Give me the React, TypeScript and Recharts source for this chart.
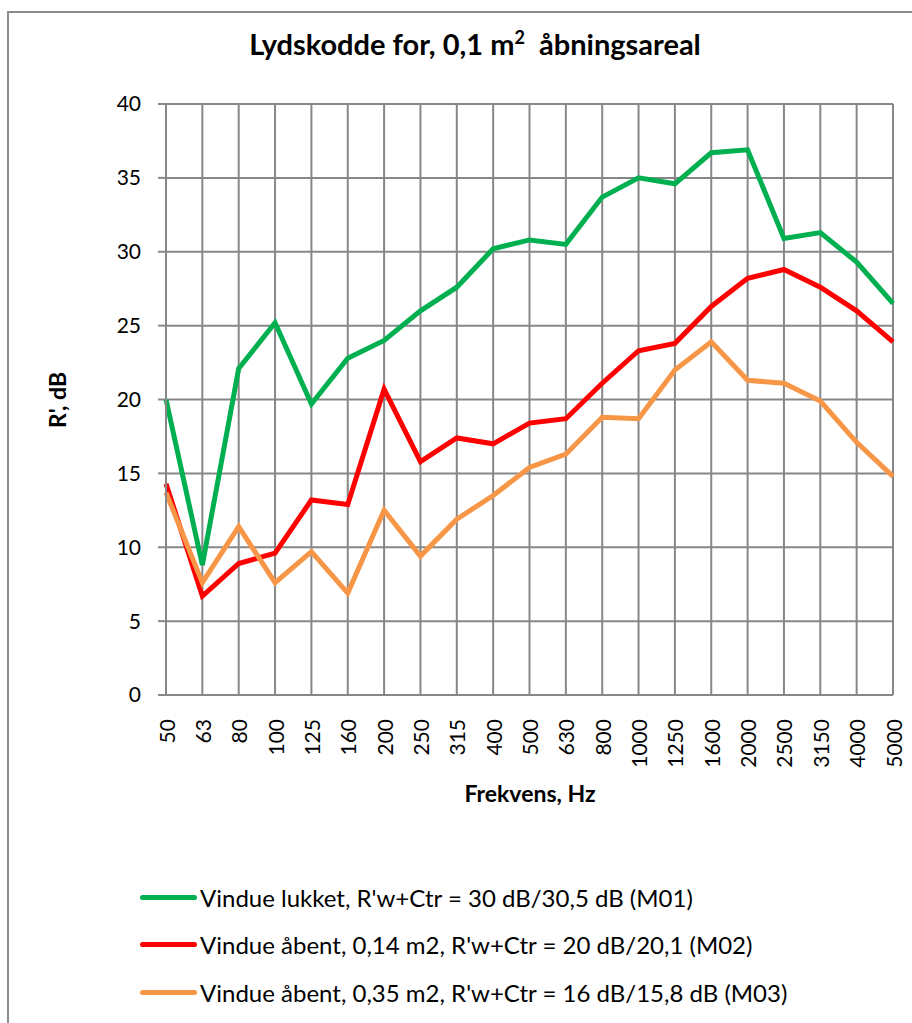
import { LineChart, Line, XAxis, YAxis, CartesianGrid } from 'recharts';

const frequencies = ['50', '63', '80', '100', '125', '160', '200', '250', '315', '400', '500', '630', '800', '1000', '1250', '1600', '2000', '2500', '3150', '4000', '5000'];

const closedM01 = [20.0, 8.8, 22.1, 25.2, 19.7, 22.8, 24.0, 26.0, 27.6, 30.2, 30.8, 30.5, 33.7, 35.0, 34.6, 36.7, 36.9, 30.9, 31.3, 29.3, 26.5];
const open014M02 = [14.3, 6.7, 8.9, 9.6, 13.2, 12.9, 20.7, 15.8, 17.4, 17.0, 18.4, 18.7, 21.1, 23.3, 23.8, 26.3, 28.2, 28.8, 27.6, 26.0, 23.9];
const open035M03 = [13.7, 7.6, 11.4, 7.6, 9.7, 6.9, 12.5, 9.4, 11.9, 13.5, 15.4, 16.3, 18.8, 18.7, 22.0, 23.9, 21.3, 21.1, 19.9, 17.1, 14.8];

const yTicks = [0, 5, 10, 15, 20, 25, 30, 35, 40];

const series = [
  { key: 'm01', name: "Vindue lukket, R'w+Ctr = 30 dB/30,5 dB (M01)", color: '#00B050' },
  { key: 'm02', name: "Vindue åbent, 0,14 m2, R'w+Ctr = 20 dB/20,1 (M02)", color: '#FF0000' },
  { key: 'm03', name: "Vindue åbent, 0,35 m2, R'w+Ctr = 16 dB/15,8 dB (M03)", color: '#F79646' },
];

const FONT = 'Lato, "Open Sans", sans-serif';
const GRID = '#878787';

const data = frequencies.map((f, i) => ({
  freq: f,
  m01: closedM01[i],
  m02: open014M02[i],
  m03: open035M03[i],
}));

const RotatedTick = (props: any) => {
  const { x, y, payload } = props;
  return (
    <text
      x={x}
      y={y + 16}
      transform={`rotate(-90, ${x}, ${y + 16})`}
      textAnchor="end"
      dominantBaseline="central"
      fontSize={21}
      fontFamily={FONT}
      fill="#000"
    >
      {payload.value}
    </text>
  );
};

export default function App() {
  return (
    <div style={{ position: 'absolute', left: 0, top: 0, width: 912, height: 1023, overflow: 'hidden', background: '#fff', fontFamily: FONT }}>
      <div style={{ position: 'absolute', left: 7, top: 11, width: 960, height: 1100, border: '2px solid #8c8c8c', boxSizing: 'border-box' }} />

      <div style={{ position: 'absolute', left: 0, width: 950, top: 26, lineHeight: '36px', textAlign: 'center', fontWeight: 700, fontSize: 29, color: '#000' }}>
        Lydskodde for, 0,1 m<sup style={{ fontSize: 18, lineHeight: 0 }}>2</sup>&nbsp; åbningsareal
      </div>

      <LineChart
        width={912}
        height={1023}
        data={data}
        margin={{ top: 104, right: 19, bottom: 268, left: 106 }}
        style={{ position: 'absolute', left: 0, top: 0 }}
      >
        <CartesianGrid stroke={GRID} strokeWidth={2} vertical horizontal />
        <XAxis
          dataKey="freq"
          interval={0}
          height={60}
          tick={<RotatedTick />}
          tickLine={false}
          axisLine={{ stroke: GRID, strokeWidth: 2 }}
        />
        <YAxis
          domain={[0, 40]}
          ticks={yTicks}
          width={60}
          tickSize={8}
          tickMargin={17}
          tickLine={{ stroke: GRID, strokeWidth: 2 }}
          axisLine={{ stroke: GRID, strokeWidth: 2 }}
          tick={{ fontSize: 21, fontFamily: FONT, fill: '#000' }}
        />
        {series.map((s) => (
          <Line
            key={s.key}
            dataKey={s.key}
            name={s.name}
            stroke={s.color}
            strokeWidth={5}
            dot={false}
            type="linear"
            isAnimationActive={false}
          />
        ))}
      </LineChart>

      <div style={{ position: 'absolute', left: 380, width: 300, top: 778, lineHeight: '30px', textAlign: 'center', fontWeight: 700, fontSize: 23, color: '#000' }}>
        Frekvens, Hz
      </div>

      <div
        style={{
          position: 'absolute',
          left: 57,
          top: 400,
          transform: 'translate(-50%, -50%) rotate(-90deg)',
          fontWeight: 700,
          fontSize: 23,
          whiteSpace: 'nowrap',
          color: '#000',
        }}
      >
        R', dB
      </div>

      {series.map((s, i) => (
        <div key={s.key} style={{ position: 'absolute', left: 140, top: [897, 944, 992][i] - 15, height: 30, display: 'flex', alignItems: 'center', whiteSpace: 'nowrap' }}>
          <div style={{ width: 57, height: 5, borderRadius: 3, background: s.color, marginRight: 3 }} />
          <span style={{ fontSize: 24, color: '#000' }}>{s.name}</span>
        </div>
      ))}
    </div>
  );
}
